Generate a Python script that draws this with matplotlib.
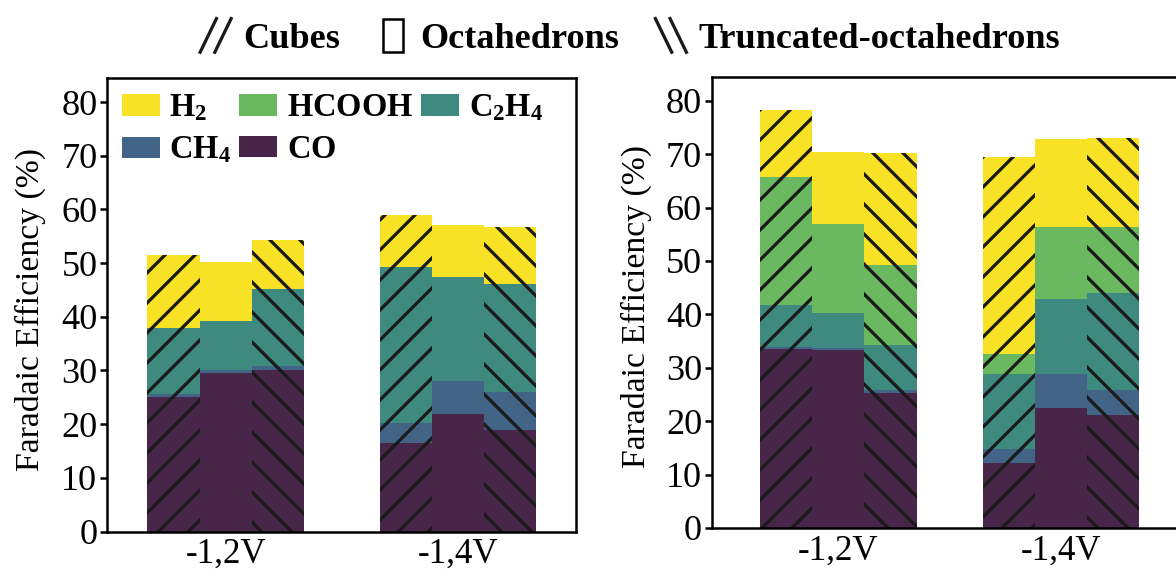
import numpy as np
import matplotlib.pyplot as plt
from matplotlib.patches import Patch, Rectangle
from matplotlib.lines import Line2D
from matplotlib.legend_handler import HandlerBase

plt.rcParams['font.family'] = ['Liberation Serif', 'DejaVu Serif']
plt.rcParams['mathtext.fontset'] = 'custom'
plt.rcParams['mathtext.rm'] = 'Liberation Serif'
plt.rcParams['mathtext.bf'] = 'Liberation Serif:bold'
plt.rcParams['hatch.linewidth'] = 1.3
plt.rcParams['hatch.color'] = '#1a1a1a'

groups = ['-1,2V', '-1,4V']
shapes = ['Cubes', 'Octahedrons', 'Truncated-octahedrons']
products = ['CO', 'CH4', 'C2H4', 'HCOOH', 'H2']
labels = {'H2': r'$\mathbf{H_2}$', 'HCOOH': r'$\mathbf{HCOOH}$',
          'C2H4': r'$\mathbf{C_2H_4}$', 'CH4': r'$\mathbf{CH_4}$',
          'CO': r'$\mathbf{CO}$'}
colors = {'H2': '#F8E225', 'HCOOH': '#6AB85F', 'C2H4': '#3E8A7E',
          'CH4': '#426487', 'CO': '#48264A'}
hatches = ['//', '', '\\\\']

# faradaic efficiency (%) per product, order: cubes, octa, trunc at -1.2V then -1.4V
left_fe = {
    'CO':    [25.0, 29.5, 30.0, 16.4, 21.9, 19.0],
    'CH4':   [0.6, 0.5, 0.9, 3.8, 6.1, 6.9],
    'C2H4':  [12.4, 9.2, 14.2, 29.0, 19.4, 20.3],
    'HCOOH': [0.0, 0.0, 0.0, 0.0, 0.0, 0.0],
    'H2':    [13.5, 11.0, 9.3, 9.8, 9.7, 10.5],
}
right_fe = {
    'CO':    [33.6, 33.4, 25.3, 12.2, 22.5, 21.1],
    'CH4':   [0.3, 0.3, 0.6, 2.5, 6.3, 4.8],
    'C2H4':  [7.9, 6.6, 8.4, 14.2, 14.1, 18.1],
    'HCOOH': [23.9, 16.6, 15.0, 3.6, 13.4, 12.4],
    'H2':    [12.6, 13.5, 20.9, 36.9, 16.6, 16.6],
}


class ShapeHandler(HandlerBase):
    """Legend key: two slanted strokes for a hatch, or a narrow empty box."""

    def __init__(self, kind):
        super().__init__()
        self.kind = kind

    def create_artists(self, legend, orig_handle, xdescent, ydescent,
                       width, height, fontsize, trans):
        x0, y0 = -xdescent, -ydescent
        if self.kind == 'box':
            r = Rectangle((x0 + 0.2 * width, y0), 0.6 * width, height,
                          facecolor='white', edgecolor='black', lw=1.0,
                          transform=trans)
            return [r]
        arts = []
        for dx in (0.0, 0.45 * width):
            if self.kind == '/':
                xs = [x0 + dx, x0 + dx + 0.5 * width]
            else:
                xs = [x0 + dx + 0.5 * width, x0 + dx]
            ys = [y0, y0 + height]
            arts.append(Line2D(xs, ys, color='#1a1a1a', lw=1.3,
                               transform=trans))
        return arts


def draw_panel(ax, fe, width, xlim):
    centers = np.arange(len(groups))
    offsets = np.array([-width, 0, width])
    for si, shape in enumerate(shapes):
        x = centers + offsets[si]
        bottom = np.zeros(len(groups))
        for p in products:
            vals = np.array(fe[p][si::3])
            ax.bar(x, vals, width, bottom=bottom, color=colors[p],
                   hatch=hatches[si], linewidth=0)
            bottom += vals
    ax.set_xlim(*xlim)
    ax.set_ylim(0, 84.5)
    ax.set_yticks(np.arange(0, 81, 10))
    ax.set_xticks(centers)
    ax.set_xticklabels(groups, fontsize=14)
    ax.tick_params(axis='x', length=0, pad=2.5)
    ax.tick_params(axis='y', direction='out', length=2.8, width=1.0,
                   labelsize=14.5, pad=1)
    for s in ax.spines.values():
        s.set_linewidth(1.0)
    ax.set_ylabel('Faradaic Efficiency (%)', fontsize=13.5)


fig = plt.figure(figsize=(1176 / 180, 572 / 180), dpi=180)
ax1 = fig.add_axes([107 / 1176, 1 - 531.5 / 572, 469 / 1176, 453.5 / 572])
ax2 = fig.add_axes([711.7 / 1176, 1 - 528 / 572, 476 / 1176, 451.3 / 572])

draw_panel(ax1, left_fe, 0.224, (-0.51, 1.507))
draw_panel(ax2, right_fe, 0.234, (-0.569, 1.569))
ax1.yaxis.set_label_coords(-0.13, 0.49)
ax2.yaxis.set_label_coords(-0.125, 0.49)

# product legend inside the left panel
order = ['H2', 'CH4', 'HCOOH', 'CO', 'C2H4']
prod_handles = [Patch(facecolor=colors[p], linewidth=0) for p in order]
ax1.legend(prod_handles, [labels[p] for p in order], ncol=3,
           loc='upper left', bbox_to_anchor=(0.0, 1.0), frameon=False,
           fontsize=13, handlelength=1.17, handleheight=0.62,
           handletextpad=0.3, columnspacing=0.25, labelspacing=0.35,
           borderpad=0.2, borderaxespad=0.25)

# shape legend on top
shape_handles = [Patch(label=s) for s in shapes]
kinds = ['/', 'box', '\\']
fig.legend(shape_handles, shapes, ncol=3, loc='center',
           bbox_to_anchor=(0.536, 0.935), frameon=False,
           prop={'weight': 'bold', 'size': 14.5},
           handler_map={h: ShapeHandler(k) for h, k in zip(shape_handles, kinds)},
           handlelength=0.9, handleheight=1.05, handletextpad=0.3,
           columnspacing=1.0)

fig.savefig('out.png', dpi=180)
